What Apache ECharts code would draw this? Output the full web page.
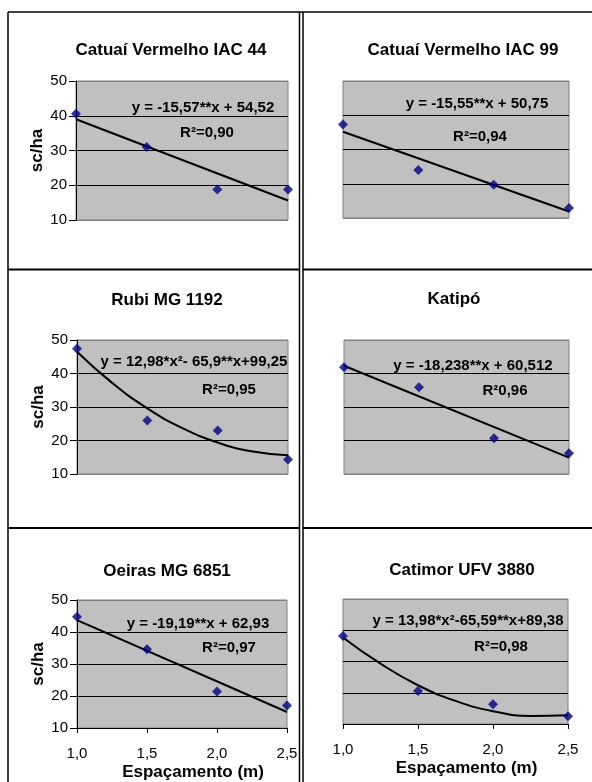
<!DOCTYPE html>
<html>
<head>
<meta charset="utf-8">
<script src="https://cdn.jsdelivr.net/npm/echarts@6/dist/echarts.min.js"></script>
<style>
  html, body { margin: 0; padding: 0; background: #fff; }
  #chart { width: 592px; height: 782px; }
</style>
</head>
<body>
<div id="chart"></div>
<script>
// dados
var espacamento = [1.0, 1.5, 2.0, 2.5];
var xTickLabels = ['1,0', '1,5', '2,0', '2,5'];
var yTicks = [10, 20, 30, 40, 50];

var cultivares = ['Catuaí Vermelho IAC 44', 'Catuaí Vermelho IAC 99', 'Rubi MG 1192', 'Katipó', 'Oeiras MG 6851', 'Catimor UFV 3880'];
var equacoes = ['y = -15,57**x + 54,52', 'y = -15,55**x + 50,75', 'y = 12,98*x²- 65,9**x+99,25', 'y = -18,238**x + 60,512', 'y = -19,19**x + 62,93', 'y = 13,98*x²-65,59**x+89,38'];
var r2 = ['R²=0,90', 'R²=0,94', 'R²=0,95', 'R²0,96', 'R²=0,97', 'R²=0,98'];

var prodIAC44 = [40.6, 31.0, 18.8, 18.8];
var prodIAC99 = [37.3, 24.0, 19.7, 12.9];
var prodRubi = [47.4, 26.0, 23.0, 14.3];
var prodKatipo = [41.9, 35.9, 20.7, 16.2];
var prodOeiras = [44.8, 34.6, 21.4, 17.0];
var prodCatimor = [38.2, 20.6, 16.3, 12.5];

// linhas de tendência
var tendX = [1.0, 2.5];
var tendXCurva = [1.0, 1.25, 1.5, 1.75, 2.0, 2.25, 2.5];
var tendIAC44 = [39.0, 15.6];
var tendIAC99 = [35.2, 11.9];
var tendRubi = [46.5, 37.2, 29.6, 23.7, 19.4, 16.7, 15.6];
var tendKatipo = [42.3, 14.9];
var tendOeiras = [43.7, 15.0];
var tendCatimor = [37.7, 29.3, 22.4, 17.4, 14.1, 12.6, 12.8];

var pontos = [prodIAC44, prodIAC99, prodRubi, prodKatipo, prodOeiras, prodCatimor];
var tendencias = [
  [tendX, tendIAC44], [tendX, tendIAC99], [tendXCurva, tendRubi],
  [tendX, tendKatipo], [tendX, tendOeiras], [tendXCurva, tendCatimor]
];

var myChart = echarts.init(document.getElementById('chart'));
var FONT = '"Liberation Sans", Arial, sans-serif';

// posição dos painéis
var grids = [
  { left: 76, top: 81, width: 212, height: 139 },
  { left: 343, top: 81, width: 226, height: 137 },
  { left: 77, top: 340, width: 211, height: 134 },
  { left: 344, top: 340, width: 225, height: 134 },
  { left: 77, top: 600, width: 210, height: 128 },
  { left: 343, top: 599, width: 225, height: 125 }
];
// posição dos textos [titulo x,y, equação x,y, R² x,y]
var textos = [
  [171, 50, 203, 108, 207, 133],
  [463, 50, 477, 104, 480, 137],
  [167, 300, 194, 362, 229, 390],
  [454, 299, 473, 366, 505, 391],
  [167, 571, 198, 624, 229, 648],
  [462, 570, 468, 621, 501, 647]
];

var gridOpt = [], xAxes = [], yAxes = [], series = [], graphic = [];

for (var i = 0; i < 6; i++) {
  var esq = (i % 2 === 0);
  var baixo = (i >= 4);
  gridOpt.push({
    left: grids[i].left, top: grids[i].top, width: grids[i].width, height: grids[i].height,
    show: true, backgroundColor: '#c0c0c0', borderColor: '#808080', borderWidth: 1
  });
  xAxes.push({
    type: 'value', gridIndex: i, min: 1, max: 2.5, interval: 0.5,
    axisLine: { show: baixo, onZero: false, lineStyle: { color: '#000', width: 1 } },
    axisTick: { show: baixo, length: 5, lineStyle: { color: '#000' } },
    axisLabel: {
      show: baixo, margin: 18, color: '#000', fontSize: 15, fontFamily: FONT,
      formatter: function (v) { return xTickLabels[Math.round((v - 1) / 0.5)]; }
    },
    splitLine: { show: false },
    name: baixo ? 'Espaçamento (m)' : '',
    nameLocation: 'middle', nameGap: 36,
    nameTextStyle: { color: '#000', fontSize: 17, fontWeight: 'bold', fontFamily: FONT, padding: [0, 0, 0, 22] }
  });
  yAxes.push({
    type: 'value', gridIndex: i, min: yTicks[0], max: yTicks[yTicks.length - 1], interval: 10,
    axisLine: { show: esq, lineStyle: { color: '#000', width: 1 } },
    axisTick: { show: esq, length: 7, lineStyle: { color: '#000' } },
    axisLabel: { show: esq, margin: 9, color: '#000', fontSize: 15, fontFamily: FONT },
    splitLine: { show: true, lineStyle: { color: ['#808080', '#000', '#000', '#000', '#808080'], width: 1 } },
    name: esq ? 'sc/ha' : '',
    nameLocation: 'middle', nameGap: 30, nameRotate: 90,
    nameTextStyle: { color: '#000', fontSize: 17, fontWeight: 'bold', fontFamily: FONT }
  });

  var tx = tendencias[i][0], ty = tendencias[i][1];
  var dadosTend = [];
  for (var k = 0; k < tx.length; k++) dadosTend.push([tx[k], ty[k]]);
  series.push({
    type: 'line', xAxisIndex: i, yAxisIndex: i, data: dadosTend,
    smooth: tx.length > 2, showSymbol: false, symbol: 'none',
    lineStyle: { color: '#000', width: 2 }, z: 2, silent: true
  });

  var dadosPts = [];
  for (var k = 0; k < espacamento.length; k++) dadosPts.push([espacamento[k], pontos[i][k]]);
  series.push({
    type: 'scatter', xAxisIndex: i, yAxisIndex: i, data: dadosPts,
    symbol: 'diamond', symbolSize: 10, itemStyle: { color: '#000080' }, z: 3
  });

  var t = textos[i];
  graphic.push({ type: 'text', x: t[0], y: t[1], z: 10,
    style: { text: cultivares[i], font: 'bold 17px ' + FONT, fill: '#000', align: 'center', verticalAlign: 'middle', textAlign: 'center', textVerticalAlign: 'middle' } });
  graphic.push({ type: 'text', x: t[2], y: t[3], z: 10,
    style: { text: equacoes[i], font: 'bold 15px ' + FONT, fill: '#000', align: 'center', verticalAlign: 'middle', textAlign: 'center', textVerticalAlign: 'middle' } });
  graphic.push({ type: 'text', x: t[4], y: t[5], z: 10,
    style: { text: r2[i], font: 'bold 15px ' + FONT, fill: '#000', align: 'center', verticalAlign: 'middle', textAlign: 'center', textVerticalAlign: 'middle' } });
}

// bordas da tabela
var linha = function (x1, y1, x2, y2, w) {
  return { type: 'line', shape: { x1: x1, y1: y1, x2: x2, y2: y2 }, style: { stroke: '#000', lineWidth: w }, z: 10 };
};
graphic.push(linha(8, 12, 592, 12, 1.5));
graphic.push(linha(8, 12, 8, 782, 1.5));
graphic.push(linha(299.5, 12, 299.5, 782, 1.5));
graphic.push(linha(303, 12, 303, 782, 1.5));
graphic.push(linha(8, 269.5, 299.5, 269.5, 2));
graphic.push(linha(303, 269.5, 592, 269.5, 2));
graphic.push(linha(8, 528, 299.5, 528, 2));
graphic.push(linha(303, 528, 592, 528, 2));

var option = {
  backgroundColor: '#fff',
  animation: false,
  grid: gridOpt,
  xAxis: xAxes,
  yAxis: yAxes,
  series: series,
  graphic: graphic
};
myChart.setOption(option);
</script>
</body>
</html>
